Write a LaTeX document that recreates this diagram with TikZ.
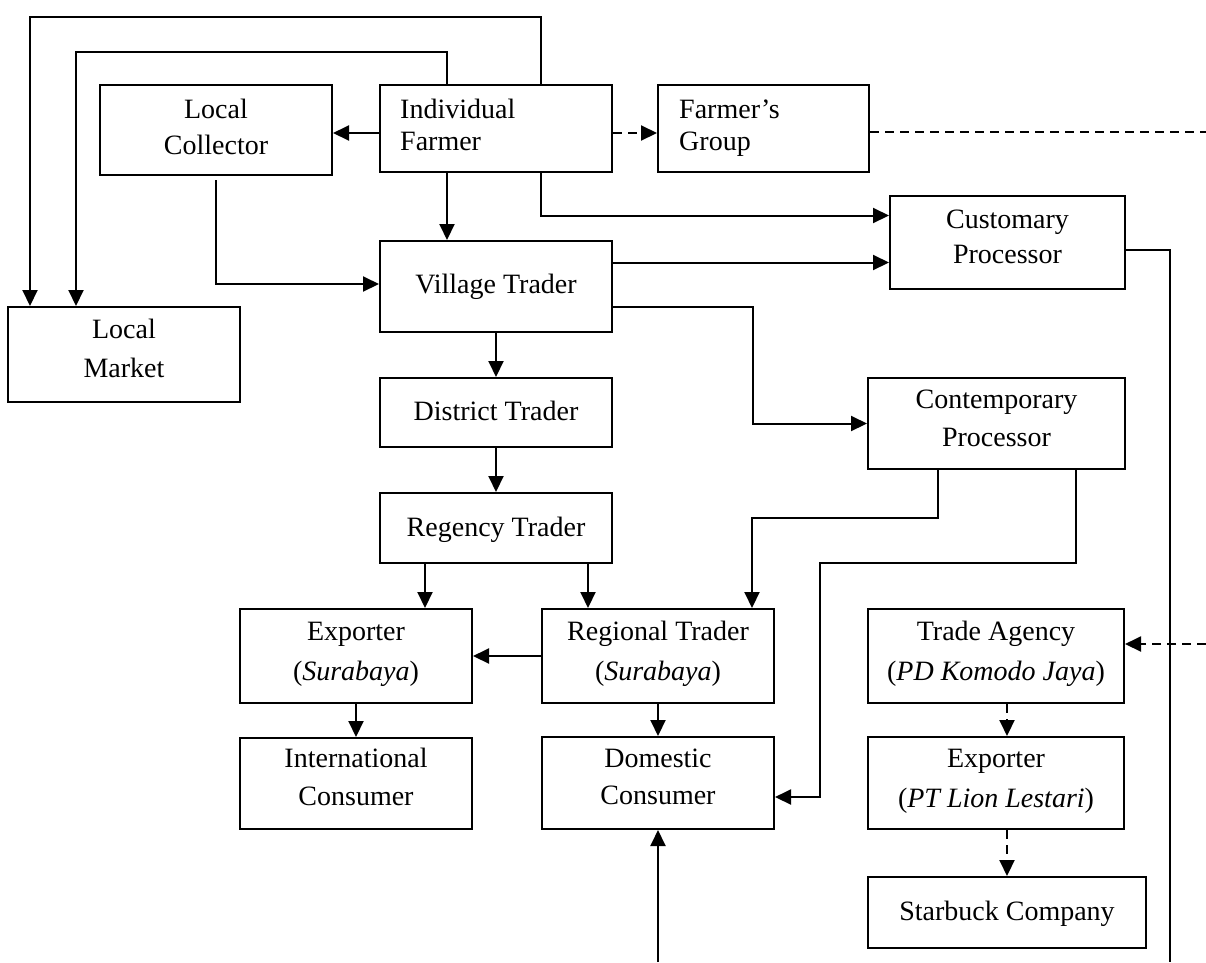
\documentclass[tikz,border=0pt]{standalone}
\usepackage{fontspec}
\setmainfont{Liberation Serif}
\usetikzlibrary{arrows.meta,fit}
\tikzset{
  box/.style={draw, line width=2pt, inner sep=0pt},
  txt/.style={font=\fontsize{28}{30}\selectfont, inner sep=0pt, anchor=base},
  txtl/.style={txt, anchor=base west},
  arr/.style={line width=2pt, -{Triangle[length=16pt,width=15pt]}},
  ln/.style={line width=2pt},
  dsh/.style={line width=2pt, dash pattern=on 9pt off 6pt},
  darr/.style={dsh, -{Triangle[length=16pt,width=15pt]}}
}
\begin{document}
\begin{tikzpicture}[x=1pt,y=-1pt]
\useasboundingbox (0,0) rectangle (1206,962);
% boxes
\node[box, fit={(380,85) (612,172)}] (IF) {};
\node[box, fit={(100,85) (332,175)}] (LC) {};
\node[box, fit={(658,85) (869,172)}] (FG) {};
\node[box, fit={(890,196) (1125,289)}] (CP) {};
\node[box, fit={(380,241) (612,332)}] (VT) {};
\node[box, fit={(8,307) (240,402)}] (LM) {};
\node[box, fit={(380,378) (612,447)}] (DT) {};
\node[box, fit={(868,378) (1125,469)}] (CoP) {};
\node[box, fit={(380,493) (612,563)}] (RT) {};
\node[box, fit={(240,609) (472,703)}] (ExS) {};
\node[box, fit={(542,609) (774,703)}] (Reg) {};
\node[box, fit={(868,609) (1124,703)}] (TA) {};
\node[box, fit={(240,738) (472,829)}] (Int) {};
\node[box, fit={(542,737) (774,829)}] (Dom) {};
\node[box, fit={(868,737) (1124,829)}] (EPT) {};
\node[box, fit={(868,877) (1146,948)}] (SB) {};
% texts
\node[txtl] (IFa) at (400,118) {Individual};
\node[txtl] (IFb) at (400,150) {Farmer};
\node[txt] (LCa) at (216,118) {Local};
\node[txt] (LCb) at (216,154) {Collector};
\node[txtl] (FGa) at (679,118) {Farmer’s};
\node[txtl] (FGb) at (679,150) {Group};
\node[txt] (CPa) at (1007.5,228) {Customary};
\node[txt] (CPb) at (1007.5,263) {Processor};
\node[txt] (VTa) at (496,293) {Village Trader};
\node[txt] (LMa) at (124,338) {Local};
\node[txt] (LMb) at (124,377) {Market};
\node[txt] (DTa) at (496,420) {District Trader};
\node[txt] (CoPa) at (996.5,408) {Contemporary};
\node[txt] (CoPb) at (996.5,446) {Processor};
\node[txt] (RTa) at (496,536) {Regency Trader};
\node[txt] (ExSa) at (356,640) {Exporter};
\node[txt] (ExSb) at (356,680) {(\textit{Surabaya})};
\node[txt] (Rega) at (658,640) {Regional Trader};
\node[txt] (Regb) at (658,680) {(\textit{Surabaya})};
\node[txt] (TAa) at (996,640) {Trade Agency};
\node[txt] (TAb) at (996,680) {(\textit{PD Komodo Jaya})};
\node[txt] (Inta) at (356,767) {International};
\node[txt] (Intb) at (356,805) {Consumer};
\node[txt] (Doma) at (658,767) {Domestic};
\node[txt] (Domb) at (658,804) {Consumer};
\node[txt] (EPTa) at (996,767) {Exporter};
\node[txt] (EPTb) at (996,807) {(\textit{PT Lion Lestari})};
\node[txt] (SBa) at (1007,920) {Starbuck Company};
% helper coordinates
\coordinate (t1) at (30,17);
\coordinate (t2) at (76,52);
\coordinate (j1) at (753,307);
\coordinate (k2) at (752,518);
\coordinate (k3) at (820,563);
\coordinate (b1) at (658,962);
\coordinate (b2) at (1170,962);
\coordinate (e1) at (1206,132);
\coordinate (e2) at (1206,644);
\coordinate (ifw) at ([yshift=-4.5pt]IF.west);
\coordinate (ife) at ([yshift=-4.5pt]IF.east);
\coordinate (c2) at ([yshift=-20pt]CP.west);
\coordinate (r1) at ([xshift=46pt]RT.south west);
\coordinate (r2) at ([xshift=209pt]RT.south west);
\coordinate (d1) at ([xshift=11pt]TA.south);
\coordinate (d2) at ([xshift=11pt]EPT.south);
% connectors
\draw[arr] ([xshift=162pt]IF.north west) |- (t1) -- (t1 |- LM.north);
\draw[arr] ([xshift=68pt]IF.north west) |- (t2) -- (t2 |- LM.north);
\draw[arr] (ifw) -- (ifw -| LC.east);
\draw[arr] ([yshift=-4pt]LC.south) |- ([yshift=2.5pt]VT.west);
\draw[arr] ([xshift=68pt]IF.south west) -- ([xshift=68pt]VT.north west);
\draw[arr] ([xshift=162pt]IF.south west) |- ([yshift=27pt]CP.west);
\draw[arr] (c2 -| VT.east) -- (c2);
\draw[arr] ([yshift=-20.5pt]VT.east) -- (j1) |- (CoP.west);
\draw[arr] (VT.south) -- (DT.north);
\draw[arr] (DT.south) -- (RT.north);
\draw[arr] (r1) -- (r1 |- ExS.north);
\draw[arr] (r2) -- (r2 |- Reg.north);
\draw[arr] (Reg.west) -- (ExS.east);
\draw[arr] (ExS.south) -- (Int.north);
\draw[arr] (Reg.south) -- (Dom.north);
\draw[arr] (b1) -- (Dom.south);
\draw[arr] ([xshift=71pt]CoP.south west) |- (k2) -- (k2 |- Reg.north);
\draw[arr] ([xshift=209pt]CoP.south west) |- (k3) |- ([yshift=-14pt]Dom.east);
\draw[ln] ([yshift=-7pt]CP.east) -| (b2);
\draw[darr] (ife) -- (ife -| FG.west);
\draw[dsh] ([yshift=-3.5pt]FG.east) -- (e1);
\draw[darr] (e2) -- (e2 -| TA.east);
\draw[darr] (d1) -- (d1 |- EPT.north);
\draw[darr] (d2) -- (d2 |- SB.north);
\end{tikzpicture}
\end{document}
